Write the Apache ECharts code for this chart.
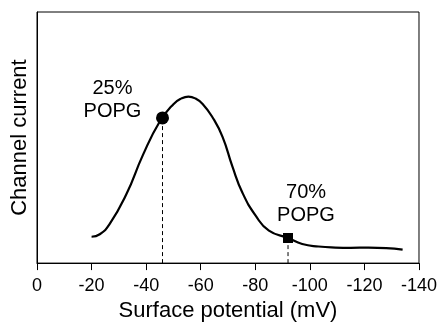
<!DOCTYPE html>
<html>
<head>
<meta charset="utf-8">
<script src="https://cdn.jsdelivr.net/npm/echarts@6/dist/echarts.min.js"></script>
<style>html,body{margin:0;padding:0;background:#fff;}#c{width:440px;height:327px;}</style>
</head>
<body>
<div id="c"></div>
<script>
// Surface potential (mV) and relative channel current (arbitrary units)
var curveX = [-20, -23, -26.6, -32.7, -38.8, -44.9, -50, -53, -55.5, -58, -60.7, -64.3, -68, -71.6, -75.3, -80.2, -85, -92, -97.2, -103.2, -109.3, -115, -121.5, -128, -134];
var curveY = [10.5, 11.5, 15.5, 27.3, 43.0, 56.2, 63.3, 65.6, 66.3, 65.6, 63.4, 58.1, 50.3, 38.5, 28.0, 18.8, 12.9, 10.0, 7.6, 6.6, 6.2, 6.1, 6.2, 6.0, 5.4];
var pointNames = ['25%\nPOPG', '70%\nPOPG'];
var pointX = [-46, -92];
var pointY = [57.8, 10.0];
var xTicks = [0, -20, -40, -60, -80, -100, -120, -140];

var FONT = '"Liberation Sans", Arial, Helvetica, sans-serif';
var curve = curveX.map(function (x, i) { return [x, curveY[i]]; });

var chart = echarts.init(document.getElementById('c'), null, {renderer: 'canvas'});
chart.setOption({
  animation: false,
  backgroundColor: '#fff',
  grid: {left: 37, right: 19, top: 12, bottom: 61, show: true, borderColor: '#000', borderWidth: 1},
  xAxis: {
    type: 'value', inverse: true, min: xTicks[xTicks.length - 1], max: xTicks[0], interval: 20,
    name: 'Surface potential (mV)', nameLocation: 'middle', nameGap: 36,
    nameTextStyle: {fontFamily: FONT, fontSize: 22, color: '#000'},
    axisLine: {show: true, onZero: false, lineStyle: {color: '#000', width: 1}},
    axisTick: {show: true, inside: false, length: 7, lineStyle: {color: '#000', width: 1}},
    axisLabel: {fontFamily: FONT, fontSize: 18, color: '#000', margin: 14},
    splitLine: {show: false}
  },
  yAxis: {
    type: 'value', min: 0, max: 100,
    name: 'Channel current', nameLocation: 'middle', nameGap: 6,
    nameTextStyle: {fontFamily: FONT, fontSize: 22, color: '#000'},
    axisLine: {show: true, lineStyle: {color: '#000', width: 1}},
    axisTick: {show: false}, axisLabel: {show: false}, splitLine: {show: false}
  },
  series: [
    {
      type: 'line', data: curve, smooth: 0.5, showSymbol: false, symbol: 'none',
      lineStyle: {color: '#000', width: 2.2}, z: 3
    },
    {
      type: 'line', data: [[pointX[0], 0], [pointX[0], pointY[0]]], symbol: 'none',
      lineStyle: {color: '#000', width: 1, type: [4, 3]}, z: 2
    },
    {
      type: 'line', data: [[pointX[1], 0], [pointX[1], pointY[1]]], symbol: 'none',
      lineStyle: {color: '#000', width: 1, type: [4, 3]}, z: 2
    },
    {
      type: 'scatter', symbol: 'circle', symbolSize: 13, z: 4,
      itemStyle: {color: '#000', opacity: 1},
      data: [{value: [pointX[0], pointY[0]], name: pointNames[0]}],
      label: {show: true, position: 'inside', offset: [-50, -18], formatter: '{b}', fontFamily: FONT, fontSize: 20, lineHeight: 23, color: '#000', align: 'center', verticalAlign: 'middle'}
    },
    {
      type: 'scatter', symbol: 'rect', symbolSize: 10, z: 4,
      itemStyle: {color: '#000', opacity: 1},
      data: [{value: [pointX[1], pointY[1]], name: pointNames[1]}],
      label: {show: true, position: 'inside', offset: [18, -34], formatter: '{b}', fontFamily: FONT, fontSize: 20, lineHeight: 23, color: '#000', align: 'center', verticalAlign: 'middle'}
    }
  ]
});
</script>
</body>
</html>
